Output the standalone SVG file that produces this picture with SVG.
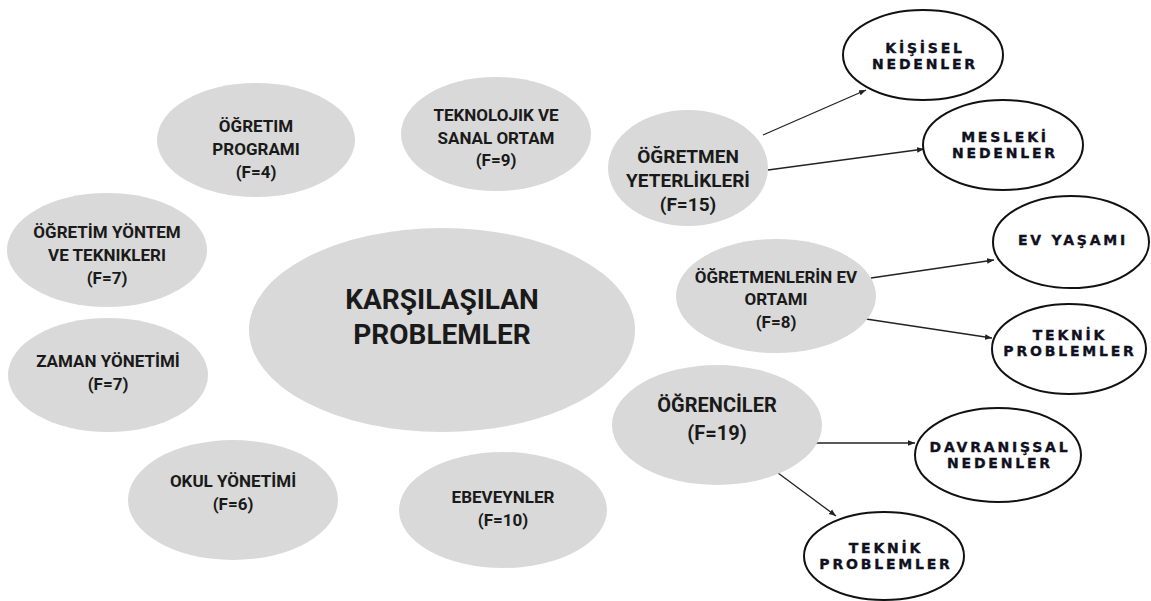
<svg xmlns="http://www.w3.org/2000/svg" width="1151" height="601" viewBox="0 0 1151 601">
<defs>
<marker id="ah" viewBox="0 0 10 10" refX="10" refY="5" markerWidth="7" markerHeight="7" markerUnits="userSpaceOnUse" orient="auto">
<path d="M0,1 L10,5 L0,9 z" fill="#222"/>
</marker>
<style>
.g{fill:#d9d9d9;}
.w{fill:#fff;stroke:#111;stroke-width:2;}
.t{font-family:Roboto,"Liberation Sans",sans-serif;font-weight:700;fill:#1a1a1a;text-anchor:middle;font-size:17px;}
.k{font-family:"DejaVu Sans","Liberation Sans",sans-serif;font-weight:700;fill:#101020;stroke:#101020;stroke-width:0.35px;text-anchor:middle;font-size:14px;letter-spacing:2.8px;}
.c{stroke:#222;stroke-width:1.3;fill:none;marker-end:url(#ah);}
</style>
</defs>
<rect width="1151" height="601" fill="#fff"/>
<g id="connectors">
<line class="c" x1="763" y1="135" x2="866" y2="90"/>
<line class="c" x1="768" y1="170" x2="924" y2="149"/>
<line class="c" x1="871" y1="278" x2="994" y2="260"/>
<line class="c" x1="866" y1="319" x2="992" y2="338"/>
<line class="c" x1="816" y1="443" x2="915" y2="443"/>
<line class="c" x1="778" y1="473" x2="836" y2="516"/>
</g>
<g id="center">
<ellipse class="g" cx="442" cy="330" rx="193" ry="102"/>
<text class="t" x="442" y="309" style="font-size:28px">KARŞILAŞILAN</text>
<text class="t" x="442" y="344" style="font-size:28px">PROBLEMLER</text>
</g>
<g id="ogretim-programi">
<ellipse class="g" cx="256" cy="140" rx="99" ry="57"/>
<text class="t" x="256" y="132">ÖĞRETIM</text>
<text class="t" x="256" y="155">PROGRAMI</text>
<text class="t" x="256" y="178">(F=4)</text>
</g>
<g id="teknolojik">
<ellipse class="g" cx="496" cy="134" rx="95" ry="57"/>
<text class="t" x="496" y="121">TEKNOLOJIK VE</text>
<text class="t" x="496" y="144">SANAL ORTAM</text>
<text class="t" x="496" y="166">(F=9)</text>
</g>
<g id="ogretmen-yeterlikleri">
<ellipse class="g" cx="688" cy="168" rx="80" ry="58"/>
<text class="t" x="688" y="163" style="font-size:19px">ÖĞRETMEN</text>
<text class="t" x="688" y="187" style="font-size:19px">YETERLİKLERİ</text>
<text class="t" x="688" y="211" style="font-size:19px">(F=15)</text>
</g>
<g id="ogretim-yontem">
<ellipse class="g" cx="107" cy="250" rx="100" ry="57"/>
<text class="t" x="107" y="238">ÖĞRETİM YÖNTEM</text>
<text class="t" x="107" y="261">VE TEKNIKLERI</text>
<text class="t" x="107" y="284">(F=7)</text>
</g>
<g id="zaman">
<ellipse class="g" cx="108" cy="375" rx="100" ry="57"/>
<text class="t" x="108" y="367">ZAMAN YÖNETİMİ</text>
<text class="t" x="108" y="390">(F=7)</text>
</g>
<g id="okul">
<ellipse class="g" cx="233" cy="500" rx="105" ry="60"/>
<text class="t" x="233" y="487">OKUL YÖNETİMİ</text>
<text class="t" x="233" y="510">(F=6)</text>
</g>
<g id="ebeveynler">
<ellipse class="g" cx="503" cy="510" rx="104" ry="58"/>
<text class="t" x="503" y="503">EBEVEYNLER</text>
<text class="t" x="503" y="526">(F=10)</text>
</g>
<g id="ev-ortami">
<ellipse class="g" cx="776" cy="296" rx="100" ry="57"/>
<text class="t" x="776" y="283">ÖĞRETMENLERİN EV</text>
<text class="t" x="776" y="305">ORTAMI</text>
<text class="t" x="776" y="328">(F=8)</text>
</g>
<g id="ogrenciler">
<ellipse class="g" cx="717" cy="425" rx="105" ry="60"/>
<text class="t" x="717" y="412" style="font-size:20px">ÖĞRENCİLER</text>
<text class="t" x="717" y="440" style="font-size:20px">(F=19)</text>
</g>
<g id="kisisel">
<ellipse class="w" cx="923" cy="55" rx="80" ry="45"/>
<text class="k" x="925" y="53">KİŞİSEL</text>
<text class="k" x="925" y="69">NEDENLER</text>
</g>
<g id="mesleki">
<ellipse class="w" cx="1003" cy="145" rx="80" ry="45"/>
<text class="k" x="1005" y="142">MESLEKİ</text>
<text class="k" x="1005" y="158">NEDENLER</text>
</g>
<g id="ev-yasami">
<ellipse class="w" cx="1071" cy="242" rx="78" ry="46"/>
<text class="k" x="1073" y="245">EV YAŞAMI</text>
</g>
<g id="teknik-1">
<ellipse class="w" cx="1069" cy="349" rx="77" ry="45"/>
<text class="k" x="1070" y="340">TEKNİK</text>
<text class="k" x="1070" y="356">PROBLEMLER</text>
</g>
<g id="davranissal">
<ellipse class="w" cx="998" cy="455" rx="83" ry="47"/>
<text class="k" x="1000" y="452">DAVRANIŞSAL</text>
<text class="k" x="1000" y="468">NEDENLER</text>
</g>
<g id="teknik-2">
<ellipse class="w" cx="884" cy="556" rx="80" ry="44"/>
<text class="k" x="886" y="553">TEKNİK</text>
<text class="k" x="886" y="569">PROBLEMLER</text>
</g>
</svg>
